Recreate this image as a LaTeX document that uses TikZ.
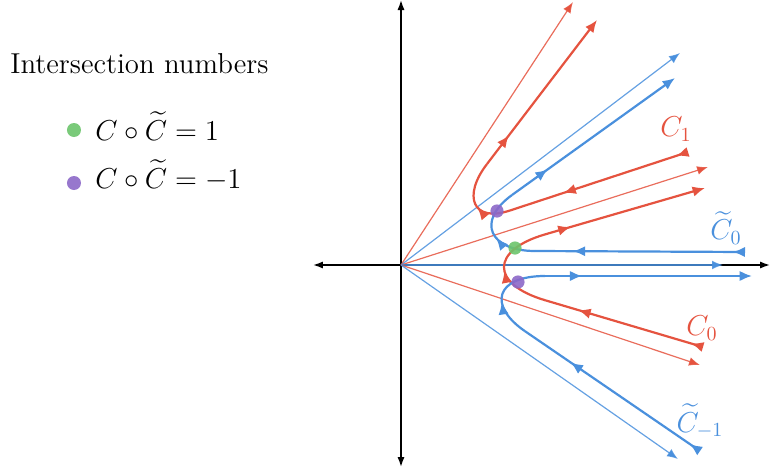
\documentclass[tikz,border=0pt]{standalone}
\usepackage{fix-cm}
\usepackage{amsmath,amssymb}
\usepackage{tikz}
\usepackage{xcolor}
\usetikzlibrary{arrows.meta,decorations.markings}
\definecolor{FlowRed}{HTML}{E5533F}
\definecolor{FlowBlue}{HTML}{4A90DD}
\definecolor{DotGreen}{HTML}{6CC46C}
\definecolor{DotPurple}{HTML}{8C68C8}

\tikzset{
    axis/.style={line width=0.8pt, arrows={Latex[length=5pt,width=3.6pt]-Latex[length=5pt,width=3.6pt]}},
    ray/.style={line width=0.6pt, draw opacity=0.85, arrows={-Latex[length=5.5pt,width=4.4pt]}},
    flowline/.style={line width=1.1pt},
    inflow/.style={arrows={Latex[reversed,length=6.2pt,width=5.2pt]-}},
    outflow/.style={arrows={-Latex[length=6.2pt,width=5.2pt]}},
    midflow/.style={postaction={decorate}, decoration={markings,
        mark=at position #1 with {\arrow{Latex[length=6.2pt,width=5.2pt]}}}},
    xdot/.style={circle, inner sep=0pt, minimum size=6.6pt, fill opacity=0.9},
    lbl/.style={inner sep=0pt, font=\Large}
}

\begin{document}
\begin{tikzpicture}[x=10pt, y=10pt]
    \useasboundingbox (-20.05,-10.35) rectangle (18.5,13.25);

    % Legend
    \node[lbl, anchor=base west] (title) at (-19.55,9.6) {Intersection numbers};
    \node[xdot, minimum size=7pt, fill=DotGreen] (lg1) at (-16.35,6.75) {};
    \node[lbl, anchor=base west] (lt1) at (-15.3,6.25) {$C\circ\widetilde{C}=1$};
    \node[xdot, minimum size=7pt, fill=DotPurple] (lg2) at (-16.35,4.1) {};
    \node[lbl, anchor=base west] (lt2) at (-15.3,3.85) {$C\circ\widetilde{C}=-1$};

    % Axes
    \coordinate (O) at (0,0);
    \draw[axis] (-4.4,0) -- (18.45,0);
    \draw[axis] (0,-10.1) -- (0,13.25);

    % Asymptotic rays
    \draw[ray, FlowRed] (O) -- (8.6,13.15);
    \draw[ray, FlowBlue] (O) -- (13.95,10.6);
    \draw[ray, FlowRed] (O) -- (15.35,4.9);
    \draw[ray, FlowBlue] (O) -- (16.1,0);
    \draw[ray, FlowRed] (O) -- (14.95,-5);
    \draw[ray, FlowBlue] (O) -- (13.85,-9.7);

    % C_1
    \draw[flowline, FlowRed, inflow, midflow=0.7] (14.35,5.65) -- (5.45,2.725);
    \draw[flowline, FlowRed, midflow=0.42] (5.45,2.725) .. controls (3.55,2.1) and (3.08,3.47) .. (4.3,5.05);
    \draw[flowline, FlowRed, outflow, midflow=0.2] (4.3,5.05) -- (9.8,12.25);

    % C~_0
    \draw[flowline, FlowBlue, inflow, midflow=0.82] (17.2,0.65) -- (6.7,0.7);
    \draw[flowline, FlowBlue, midflow=0.45] (6.7,0.7) .. controls (4.45,0.7) and (3.725,2.175) .. (5.55,3.5);
    \draw[flowline, FlowBlue, outflow, midflow=0.22] (5.55,3.5) -- (13.7,9.35);

    % C_0
    \draw[flowline, FlowRed, inflow, midflow=0.79] (15.1,-4.1) -- (7.2,-1.76);
    \draw[flowline, FlowRed, midflow=0.47] (7.2,-1.76) .. controls (4.465,-0.95) and (4.465,0.73) .. (7.2,1.53);
    \draw[flowline, FlowRed, outflow, midflow=0.16] (7.2,1.53) -- (15.2,3.85);

    % C~_{-1}
    \draw[flowline, FlowBlue, inflow, midflow=0.74] (14.95,-9.3) -- (6.2,-3.31);
    \draw[flowline, FlowBlue, midflow=0.4] (6.2,-3.31) .. controls (4.345,-2.04) and (4.7,-0.55) .. (7.2,-0.55);
    \draw[flowline, FlowBlue, outflow, midflow=0.18] (7.2,-0.55) -- (17.55,-0.55);

    % Intersection points
    \node[xdot, fill=DotGreen] (p0) at (5.7,0.85) {};
    \node[xdot, fill=DotPurple] (p1) at (4.8,2.7) {};
    \node[xdot, fill=DotPurple] (p2) at (5.85,-0.85) {};

    % Curve labels
    \node[lbl, FlowRed] (lC1) at (13.75,6.8) {$C_1$};
    \node[lbl, FlowBlue] (lCt0) at (16.25,1.85) {$\widetilde{C}_0$};
    \node[lbl, FlowRed] (lC0) at (15.05,-3.15) {$C_0$};
    \node[lbl, FlowBlue] (lCtm1) at (14.95,-7.8) {$\widetilde{C}_{-1}$};
\end{tikzpicture}
\end{document}
